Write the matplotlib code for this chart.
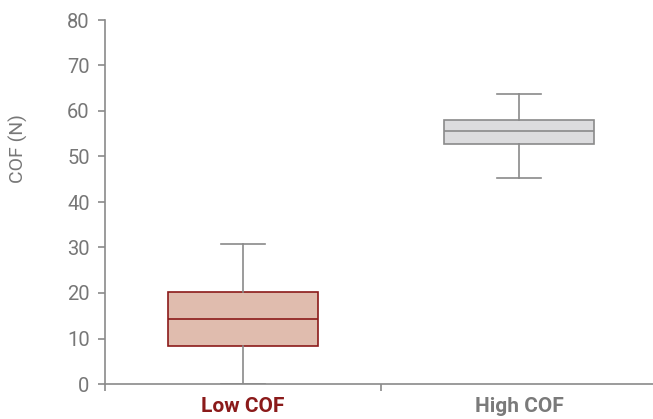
import matplotlib
matplotlib.use("Agg")
import matplotlib.pyplot as plt
from matplotlib.ticker import FixedLocator, NullFormatter

categories = ["Low COF", "High COF"]
whislo = [0.0, 45.3]
q1 = [8.4, 52.7]
med = [14.3, 55.5]
q3 = [20.2, 58.0]
whishi = [30.8, 63.7]

fills = ["#e0bcae", "#dcdcde"]
edges = ["#8b1a1a", "#8a8a8a"]
label_colors = ["#8b1a1a", "#7a7a7a"]
gray = "#8a8a8a"

plt.rcParams["font.family"] = ["Roboto", "DejaVu Sans"]

fig = plt.figure(figsize=(6.53, 4.19), dpi=100)
ax = fig.add_axes([105/653, 35/419, 552/653, 364/419])

stats = []
for i, c in enumerate(categories):
    stats.append(dict(label=c, whislo=whislo[i], q1=q1[i], med=med[i], q3=q3[i], whishi=whishi[i], fliers=[]))

bp = ax.bxp(stats, positions=[0, 1], widths=0.543, patch_artist=True, showfliers=False,
            capwidths=0.163)
for i, box in enumerate(bp["boxes"]):
    box.set_facecolor(fills[i])
    box.set_edgecolor(edges[i])
    box.set_linewidth(1.2)
    bp["medians"][i].set_color(edges[i])
    bp["medians"][i].set_linewidth(1.2)
for w in bp["whiskers"]:
    w.set_color(gray); w.set_linewidth(1.2)
for cp in bp["caps"]:
    cp.set_color(gray); cp.set_linewidth(1.2)

ax.set_xlim(-0.5, 1.5)
ax.set_ylim(0, 80)
ax.set_yticks(range(0, 81, 10))
ax.spines["top"].set_visible(False)
ax.spines["right"].set_visible(False)
for s in ["left", "bottom"]:
    ax.spines[s].set_color(gray)
    ax.spines[s].set_linewidth(1.2)

ax.tick_params(axis="y", colors=gray, labelcolor="#777777", labelsize=14.5, length=5, width=1.2, pad=6)
ax.xaxis.set_major_locator(FixedLocator([-0.5, 0.5, 1.5]))
ax.xaxis.set_major_formatter(NullFormatter())
ax.tick_params(axis="x", colors=gray, length=5, width=1.2)
ax.xaxis.set_minor_locator(FixedLocator([0, 1]))
ax.xaxis.set_minor_formatter(plt.FixedFormatter(categories))
ax.tick_params(axis="x", which="minor", length=0, labelsize=15, pad=9)
for i, lbl in enumerate(ax.get_xticklabels(minor=True)):
    lbl.set_color(label_colors[i])
    lbl.set_fontweight("bold")

fig.text(18/653, 1 - 149/419, "COF (N)", rotation=90, ha="center", va="center",
         fontsize=14, color="#777777")

fig.savefig("out.png", dpi=100)
